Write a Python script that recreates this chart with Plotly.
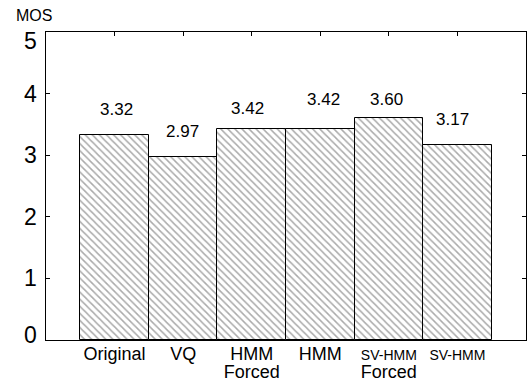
import plotly.graph_objects as go

# Mean opinion scores per system
systems = ["Original", "VQ", "HMM Forced", "HMM", "SV-HMM Forced", "SV-HMM"]
BIG = "<span style='font-size:18px'>{}</span>"
SMALL = "<span style='font-size:14px'>{}</span>"
tick_text = [
    BIG.format("Original"),
    BIG.format("VQ"),
    BIG.format("HMM") + "<br>" + BIG.format("Forced"),
    BIG.format("HMM"),
    SMALL.format("SV-HMM") + "<br>" + BIG.format("Forced"),
    SMALL.format("SV-HMM"),
]
mos = [3.32, 2.97, 3.42, 3.42, 3.60, 3.17]
value_text = ["3.32", "2.97", "3.42", "3.42", "3.60", "3.17"]
y_ticks = [0, 1, 2, 3, 4, 5]

# small per-label nudges (pixels) for the value captions
label_dx = [2, -1, -4, 3, -2, -5]
label_dy = [22, 22, 17, 26, 15, 22]

FONT = "Liberation Sans, Arial, sans-serif"
xpos = list(range(len(systems)))

fig = go.Figure()
fig.add_trace(go.Bar(
    x=xpos,
    y=mos,
    width=1.0,
    marker=dict(
        color="white",
        line=dict(color="black", width=1),
        pattern=dict(shape="\\", fgcolor="#555555", bgcolor="white",
                     size=5, solidity=0.3),
    ),
    hoverinfo="skip",
    showlegend=False,
))

for i, (v, t) in enumerate(zip(mos, value_text)):
    fig.add_annotation(
        x=xpos[i], y=v, text=t, showarrow=False,
        xanchor="center", yanchor="bottom",
        xshift=label_dx[i], yshift=label_dy[i] - 8,
        font=dict(family=FONT, size=17, color="black"),
    )

# y tick labels; the end labels are kept inside the frame's height
y_lo, y_hi = y_ticks[0], y_ticks[-1]
for v in y_ticks:
    shift = 5 if v == y_lo else (-9 if v == y_hi else 0)
    fig.add_annotation(
        xref="paper", yref="y", x=-0.015, y=v, text=str(v),
        showarrow=False, xanchor="right", yanchor="middle", yshift=shift,
        font=dict(family=FONT, size=23, color="black"),
    )

fig.add_annotation(
    xref="paper", yref="paper", x=-0.066, y=1.02,
    text="MOS", showarrow=False, xanchor="left", yanchor="bottom",
    font=dict(family=FONT, size=16, color="black"),
)

fig.update_xaxes(
    range=[-1, 6],
    tickvals=xpos,
    ticktext=tick_text,
    ticks="inside", ticklen=4, tickcolor="black",
    showline=True, linecolor="black", linewidth=1, mirror="ticks",
    showgrid=False, zeroline=False,
    layer="below traces",
    automargin=False,
    ticklabelstandoff=2,
    tickfont=dict(family=FONT, size=14, color="black"),
)
fig.update_yaxes(
    range=[0, 5],
    tickvals=y_ticks,
    showticklabels=False,
    ticks="inside", ticklen=4, tickcolor="black",
    showline=True, linecolor="black", linewidth=1, mirror="ticks",
    showgrid=False, zeroline=False,
    automargin=False,
)

fig.update_layout(
    width=527, height=381,
    margin=dict(l=46, r=1, t=32, b=41),
    plot_bgcolor="white", paper_bgcolor="white",
    bargap=0,
)

fig.write_html("out.html")
